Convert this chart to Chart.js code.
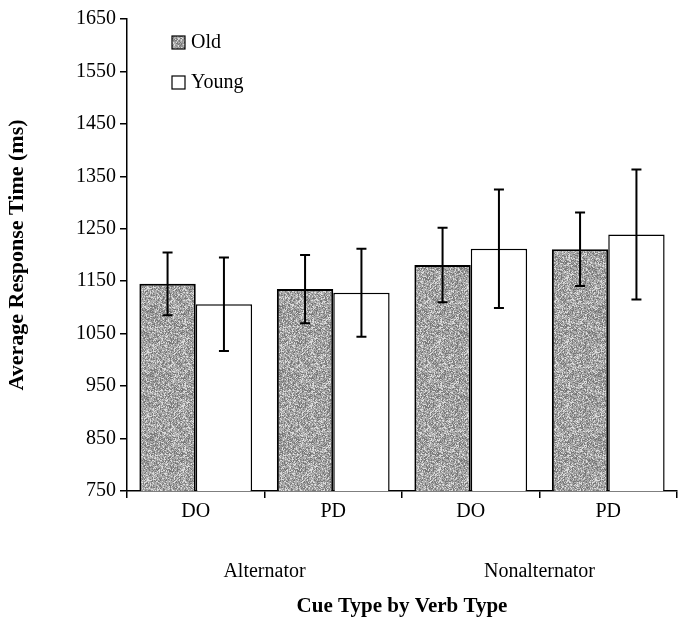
<!DOCTYPE html>
<html>
<head>
<meta charset="utf-8">
<script src="https://cdn.jsdelivr.net/npm/chart.js@4/dist/chart.umd.min.js"></script>
<style>
  html, body { margin: 0; padding: 0; background: #fff; }
  #wrap { width: 683px; height: 627px; }
</style>
</head>
<body>
<div id="wrap"><canvas id="chart"></canvas></div>
<script>
// data
const cueLabels = ['DO', 'PD', 'DO', 'PD'];
const verbGroups = ['Alternator', 'Nonalternator'];
const oldMeans = [1145, 1135, 1181, 1211];
const oldErrors = [60, 65, 71, 70];
const youngMeans = [1106, 1128, 1212, 1239];
const youngErrors = [89, 84, 113, 124];
const yTicks = [750, 850, 950, 1050, 1150, 1250, 1350, 1450, 1550, 1650];

const serif = "'Liberation Serif', 'DejaVu Serif', serif";

// grey stipple fill, like the printed figure
function makeStipple() {
  const c = document.createElement('canvas');
  c.width = 64;
  c.height = 64;
  const ctx = c.getContext('2d');
  const img = ctx.createImageData(64, 64);
  let seed = 7;
  for (let i = 0; i < 64 * 64; i++) {
    seed = (seed * 1103515245 + 12345) & 0x7fffffff;
    const r = (seed >> 8) % 100;
    let g = 175;
    if (r < 22) g = 120;
    else if (r < 45) g = 150;
    else if (r > 80) g = 220;
    img.data[i * 4] = g;
    img.data[i * 4 + 1] = g;
    img.data[i * 4 + 2] = g;
    img.data[i * 4 + 3] = 255;
  }
  ctx.putImageData(img, 0, 0);
  return document.getElementById('chart').getContext('2d').createPattern(c, 'repeat');
}
const stipple = makeStipple();

const errorBars = {
  id: 'errorBars',
  afterDatasetsDraw(chart) {
    const ctx = chart.ctx;
    const y = chart.scales.y;
    ctx.save();
    ctx.strokeStyle = '#000';
    ctx.lineWidth = 2;
    chart.data.datasets.forEach((ds, di) => {
      const meta = chart.getDatasetMeta(di);
      meta.data.forEach((bar, i) => {
        const top = y.getPixelForValue(ds.data[i] + ds.errors[i]);
        const bot = y.getPixelForValue(ds.data[i] - ds.errors[i]);
        const x = bar.x;
        ctx.beginPath();
        ctx.moveTo(x, top);
        ctx.lineTo(x, bot);
        ctx.moveTo(x - 5, top);
        ctx.lineTo(x + 5, top);
        ctx.moveTo(x - 5, bot);
        ctx.lineTo(x + 5, bot);
        ctx.stroke();
      });
    });
    ctx.restore();
  }
};

const extraText = {
  id: 'extraText',
  afterDraw(chart) {
    const ctx = chart.ctx;
    const x = chart.scales.x;
    ctx.save();
    ctx.fillStyle = '#000';
    ctx.font = '20px ' + serif;
    ctx.textAlign = 'center';
    ctx.textBaseline = 'middle';
    verbGroups.forEach((g, i) => {
      const cx = (x.getPixelForValue(i * 2) + x.getPixelForValue(i * 2 + 1)) / 2;
      ctx.fillText(g, cx, 572);
    });

    // legend in the upper left of the plot
    const left = chart.chartArea.left + 45;
    chart.data.datasets.forEach((ds, i) => {
      const cy = 42 + i * 40;
      ctx.fillStyle = ds.backgroundColor;
      ctx.fillRect(left, cy - 6, 13, 13);
      ctx.strokeStyle = '#000';
      ctx.lineWidth = 1.2;
      ctx.strokeRect(left, cy - 6, 13, 13);
      ctx.fillStyle = '#000';
      ctx.textAlign = 'left';
      ctx.fillText(ds.label, left + 19, cy + 1);
    });
    ctx.restore();
  }
};

new Chart(document.getElementById('chart'), {
  type: 'bar',
  data: {
    labels: cueLabels,
    datasets: [
      {
        label: 'Old',
        data: oldMeans,
        errors: oldErrors,
        backgroundColor: stipple,
        borderColor: '#000',
        borderWidth: 2,
      },
      {
        label: 'Young',
        data: youngMeans,
        errors: youngErrors,
        backgroundColor: '#fff',
        borderColor: '#000',
        borderWidth: 1.5,
      },
    ],
  },
  options: {
    responsive: true,
    maintainAspectRatio: false,
    animation: false,
    events: [],
    layout: { padding: { left: 4, top: 19, right: 6, bottom: 0 } },
    datasets: {
      bar: { categoryPercentage: 0.82, barPercentage: 1.0 },
    },
    plugins: {
      legend: { display: false },
      tooltip: { enabled: false },
    },
    scales: {
      x: {
        grid: {
          offset: true,
          drawOnChartArea: false,
          color: '#000',
          tickLength: 7,
          lineWidth: 1.5,
        },
        border: { color: '#000', width: 1.5 },
        ticks: { color: '#000', font: { family: serif, size: 20 }, padding: 2 },
        title: {
          display: true,
          text: 'Cue Type by Verb Type',
          color: '#000',
          font: { family: serif, size: 21, weight: 'bold' },
          padding: { top: 0, bottom: 8 },
        },
        afterFit(scale) {
          scale.height = 136;
        },
      },
      y: {
        min: 750,
        max: 1650,
        afterBuildTicks(scale) {
          scale.ticks = yTicks.map((v) => ({ value: v }));
        },
        grid: {
          drawOnChartArea: false,
          color: '#000',
          tickLength: 7,
          lineWidth: 1.5,
        },
        border: { color: '#000', width: 1.5 },
        ticks: {
          color: '#000',
          font: { family: serif, size: 20 },
          padding: 4,
          callback: (v) => String(v),
        },
        title: {
          display: true,
          text: 'Average Response Time (ms)',
          color: '#000',
          font: { family: serif, size: 22, weight: 'bold' },
          padding: { top: 0, bottom: 0 },
        },
        afterFit(scale) {
          scale.width = 123;
        },
      },
    },
  },
  plugins: [errorBars, extraText],
});
</script>
</body>
</html>
